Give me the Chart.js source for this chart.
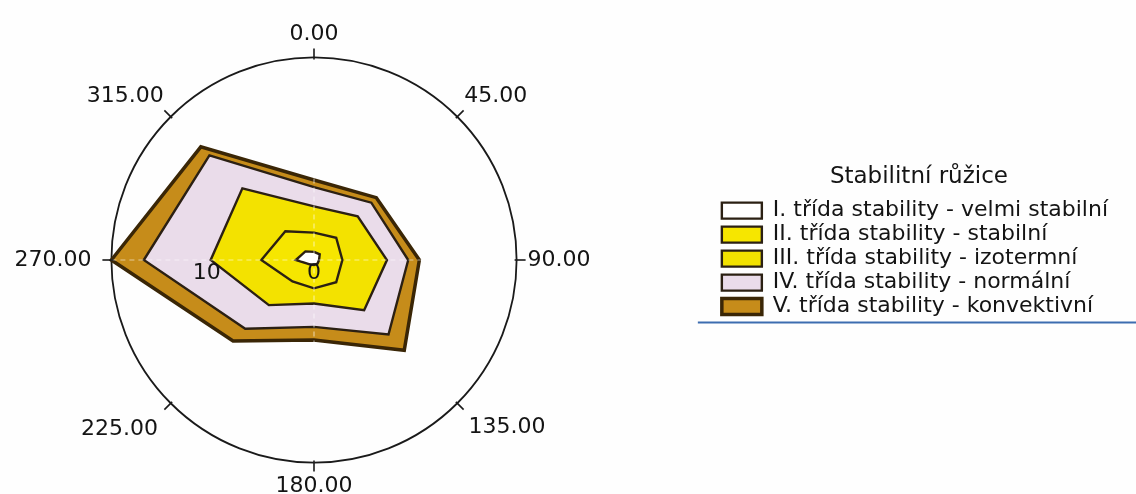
<!DOCTYPE html>
<html><head><meta charset="utf-8">
<script src="https://cdn.jsdelivr.net/npm/chart.js@4.4.1/dist/chart.umd.min.js"></script>
<style>
html,body{margin:0;padding:0;background:#fefefe;overflow:hidden;}
#wrap{position:relative;width:1136px;height:494px;overflow:hidden;}
#inner{position:absolute;left:-90px;top:0;width:1226px;height:500px;}
</style></head><body>
<div id="wrap"><div id="inner"><canvas id="rose"></canvas></div></div>
<script>
// ---- data ----
const directions = ['0.00','45.00','90.00','135.00','180.00','225.00','270.00','315.00'];
const classLabels = [
  'I. třída stability - velmi stabilní',
  'II. třída stability - stabilní',
  'III. třída stability - izotermní',
  'IV. třída stability - normální',
  'V. třída stability - konvektivní'
];
const classI   = [0.8, 0.8, 0.5, 0.5, 0.5, 0.6, 1.8, 1.2];
const classII  = [1.9, 2.3, 2.3, 2.6, 2.3, 2.4, 3.4, 2.8];
const classIII = [2.6, 3.0, 4.4, 3.9, 1.5, 3.3, 5.0, 6.0];
const classIV  = [1.9, 1.9, 2.1, 3.4, 2.3, 3.3, 6.6, 4.6];
const classV   = [0.7, 0.7, 1.1, 2.2, 1.3, 1.7, 3.2, 1.2];
const radialTicks = [0, 10, 20];
const legendTitle = 'Stabilitní růžice';

// ---- styles ----
const fillColors = ['#ffffff', '#f6e600', '#f3e200', '#eadcea', '#c68c1a'];
const lineColors = ['#2b2013', '#2b2013', '#2b2013', '#2b2013', '#3a2606'];
const labelPadding = [10, 10, 11, 16, 10, 18, 20, 10];
const FONT = 'DejaVu Sans';
const TEXT = '#141414';

// stacked (cumulative) rings built from the class values
const perClass = [classI, classII, classIII, classIV, classV];
let acc = directions.map(() => 0);
const cumulative = perClass.map(arr => {
  acc = acc.map((a, i) => +(a + arr[i]).toFixed(2));
  return acc;
});

const roseDecor = {
  id: 'roseDecor',
  afterDatasetsDraw(chart) {
    const s = chart.scales.r, ctx = chart.ctx;
    const R = s.drawingArea;
    ctx.save();
    ctx.strokeStyle = 'rgba(255,255,255,0.55)';
    ctx.lineWidth = 1.2;
    ctx.setLineDash([5, 4]);
    [0, 2].forEach(i => {
      const a = s.getIndexAngle(i) - Math.PI / 2;
      ctx.beginPath();
      ctx.moveTo(s.xCenter - Math.cos(a) * R, s.yCenter - Math.sin(a) * R);
      ctx.lineTo(s.xCenter + Math.cos(a) * R, s.yCenter + Math.sin(a) * R);
      ctx.stroke();
    });
    ctx.restore();
  },
  afterDraw(chart) {
    const s = chart.scales.r, ctx = chart.ctx;
    const R = s.drawingArea;
    ctx.save();
    // tick marks on the outer circle
    ctx.strokeStyle = '#1a1a1a';
    ctx.lineWidth = 1.6;
    directions.forEach((d, i) => {
      const a = s.getIndexAngle(i) - Math.PI / 2;
      ctx.beginPath();
      ctx.moveTo(s.xCenter + Math.cos(a) * (R - 2), s.yCenter + Math.sin(a) * (R - 2));
      ctx.lineTo(s.xCenter + Math.cos(a) * (R + 9), s.yCenter + Math.sin(a) * (R + 9));
      ctx.stroke();
    });
    // radial value labels along the 270° axis
    ctx.fillStyle = TEXT;
    ctx.font = '22px "' + FONT + '"';
    ctx.textAlign = 'center';
    ctx.textBaseline = 'middle';
    radialTicks.slice(0, -1).forEach(v => {
      const p = s.getPointPositionForValue(6, v);
      ctx.fillText(String(v), p.x - (v ? 6 : 0), p.y + 13);
    });
    // blue rule under the legend
    const lg = chart.legend;
    if (lg && lg.legendHitBoxes && lg.legendHitBoxes.length) {
      const hb = lg.legendHitBoxes[lg.legendHitBoxes.length - 1];
      const y = hb.top + hb.height + 5;
      ctx.strokeStyle = '#3d6db0';
      ctx.lineWidth = 2;
      ctx.setLineDash([]);
      ctx.beginPath();
      ctx.moveTo(lg.left - 22, y);
      ctx.lineTo(chart.width, y);
      ctx.stroke();
    }
    ctx.restore();
  }
};

Chart.defaults.font.family = FONT;
Chart.defaults.color = TEXT;

new Chart(document.getElementById('rose'), {
  type: 'radar',
  data: {
    labels: directions,
    datasets: classLabels.map((lab, k) => ({
      label: lab,
      data: cumulative[k],
      backgroundColor: fillColors[k],
      borderColor: lineColors[k],
      borderWidth: k === 4 ? 3.5 : 2.4,
      fill: true,
      pointRadius: 0,
      pointHoverRadius: 0
    }))
  },
  options: {
    responsive: true,
    maintainAspectRatio: false,
    animation: false,
    layout: { padding: { left: 0, right: 18, top: 21, bottom: 0 } },
    scales: {
      r: {
        min: 0, max: 20,
        startAngle: 0,
        ticks: { display: false, stepSize: 10 },
        grid: {
          circular: true,
          color: c => (c.tick && c.tick.value === 20) ? '#1a1a1a' : 'rgba(0,0,0,0)',
          lineWidth: 1.8
        },
        angleLines: { display: false },
        pointLabels: {
          font: { family: FONT, size: 22 },
          color: TEXT,
          padding: c => labelPadding[c.index]
        }
      }
    },
    plugins: {
      tooltip: { enabled: false },
      legend: {
        position: 'right',
        align: 'start',
        title: { display: true, text: legendTitle, font: { family: FONT, size: 23 }, color: TEXT, padding: { top: 145, bottom: 4 } },
        labels: { boxWidth: 40, boxHeight: 16, padding: 2, font: { family: FONT, size: 22 }, color: TEXT }
      }
    }
  },
  plugins: [roseDecor]
});
</script>
</body></html>
